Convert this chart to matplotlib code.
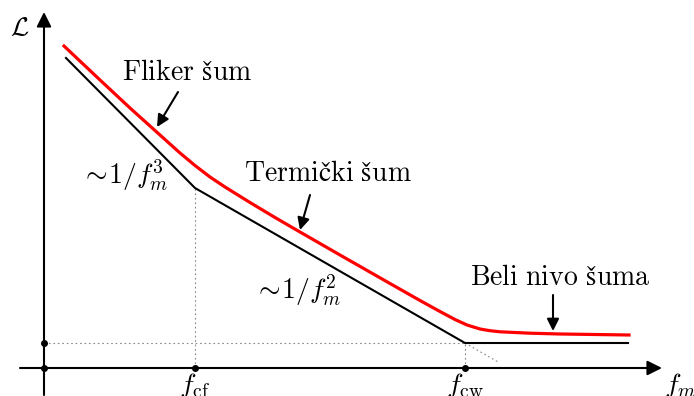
import matplotlib.pyplot as plt

plt.rcParams['mathtext.fontset'] = 'cm'
plt.rcParams['font.family'] = 'serif'
plt.rcParams['font.serif'] = ['cmr10', 'DejaVu Serif']

# asymptotic noise model (broken line), x right / y up from the origin
asym_x = [22, 151, 421, 584]
asym_y = [310, 180, 25, 25]

# phase noise curve
noise_x = [20, 56, 86, 116, 136, 151, 166, 181, 206, 231, 256, 296, 346, 376, 396, 411,
           423, 436, 446, 456, 486, 516, 585]
noise_y = [322, 288, 260, 233, 215, 202.5, 191, 181, 165.5, 150.5, 136, 113, 84.5, 67.5, 56.5, 48.5,
           43, 39, 37.3, 36.2, 34.8, 34, 33]

f_cf = 151
f_cw = 421
floor = 25

# label text, text position, arrow tail, arrow head
labels = [
    (r'$\rm Fliker\ šum$', (143, 295), (134, 276), (113, 241)),
    (r'$\rm Termički\ šum$', (284, 194), (266, 173), (256, 138)),
    (r'$\rm Beli\ nivo\ šuma$', (516, 90), (509, 73), (509, 37)),
]

fig = plt.figure(figsize=(6.94, 3.96), dpi=100)
ax = fig.add_axes([0, 0, 1, 1])
ax.set_xlim(-44, 650)
ax.set_ylim(-28, 368)
ax.axis('off')

# axes with arrow heads
arrow = dict(arrowstyle='-|>', color='black', lw=1.5, mutation_scale=22, shrinkA=0, shrinkB=0)
ax.annotate('', xy=(618, 0), xytext=(-24, 0), arrowprops=arrow)
ax.annotate('', xy=(0, 356), xytext=(0, -27), arrowprops=arrow)

# guide lines
dot = dict(color='#888888', lw=0.8, ls=(0, (1.5, 2.5)))
ax.plot([f_cf, f_cf], [0, asym_y[1]], **dot)
ax.plot([f_cw, f_cw], [0, floor], **dot)
ax.plot([0, f_cw], [floor, floor], **dot)
slope = (asym_y[2] - asym_y[1]) / (asym_x[2] - asym_x[1])
ax.plot([f_cw, f_cw + 34], [floor, floor + slope * 34], **dot)

ax.plot([0, 0, f_cf, f_cw], [0, floor, 0, 0], 'o', color='black', ms=4)

ax.plot(asym_x, asym_y, color='black', lw=1.5, solid_joinstyle='miter')
ax.plot(noise_x, noise_y, color='red', lw=2.3, solid_joinstyle='round')

ax.text(-24, 340, r'$\mathcal{L}$', fontsize=19, ha='center', va='center')
ax.text(636, -17, r'$f_m$', fontsize=20, ha='center', va='center')
ax.text(f_cf, -17, r'$f_{\rm cf}$', fontsize=20, ha='center', va='center')
ax.text(f_cw, -17, r'$f_{\rm cw}$', fontsize=20, ha='center', va='center')
ax.text(81, 193, r'$\sim\!1/f_m^3$', fontsize=20, ha='center', va='center')
ax.text(254, 78, r'$\sim\!1/f_m^2$', fontsize=20, ha='center', va='center')

for text, pos, tail, head in labels:
    ax.text(pos[0], pos[1], text, fontsize=20, ha='center', va='center')
    ax.annotate('', xy=head, xytext=tail,
                arrowprops=dict(arrowstyle='-|>', color='black', lw=1.5,
                                mutation_scale=18, shrinkA=0, shrinkB=0))

fig.savefig('out.png', dpi=100)
